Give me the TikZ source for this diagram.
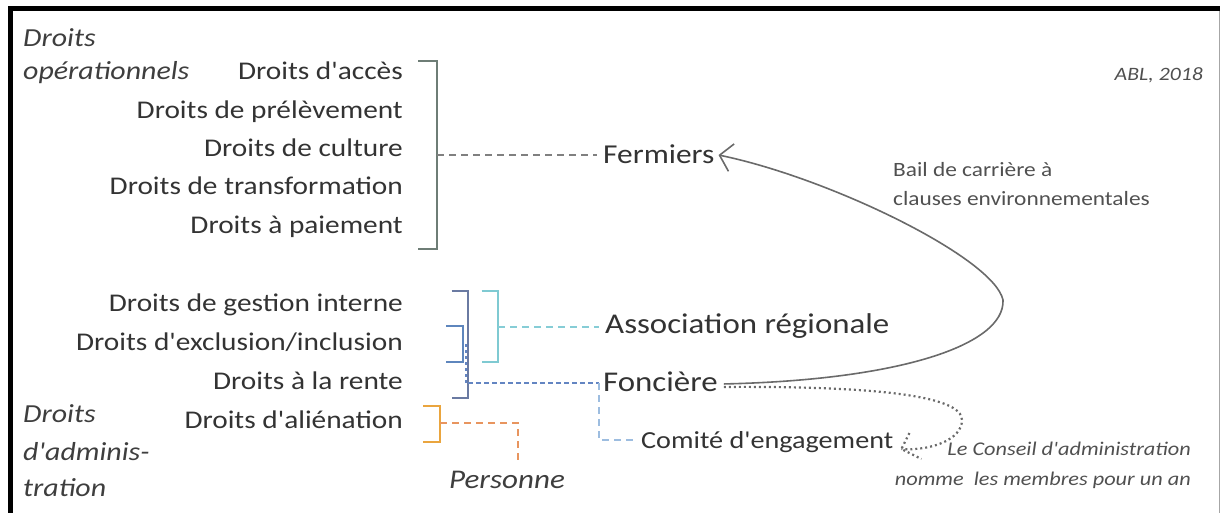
\documentclass[tikz,border=0pt]{standalone}
\usepackage{fontspec}
\setmainfont{Carlito}[FakeStretch=1.15,Ligatures=TeXOff]
\usetikzlibrary{arrows.meta,calc}
\definecolor{txt}{HTML}{333333}
\definecolor{itx}{HTML}{3E3E3E}
\definecolor{notec}{HTML}{505050}
\definecolor{brkG}{HTML}{6E7D76}
\definecolor{dshG}{HTML}{808080}
\definecolor{brkA}{HTML}{6A7AA2}
\definecolor{brkB}{HTML}{5E86BD}
\definecolor{brkC}{HTML}{7FCAD2}
\definecolor{dshC}{HTML}{86CDD6}
\definecolor{dshF}{HTML}{6385C2}
\definecolor{dshK}{HTML}{9DBDE0}
\definecolor{brkD}{HTML}{EAA53E}
\definecolor{dshD}{HTML}{E8955F}
\definecolor{curvec}{HTML}{6A6A6A}
\definecolor{dotc}{HTML}{6A6A6A}
\begin{document}
\begin{tikzpicture}[x=1pt,y=-1pt,
  rlbl/.style={font=\fontsize{25.5}{30}\selectfont, text=txt, inner sep=0pt, anchor=base east},
  ilbl/.style={font=\fontsize{#1}{#1}\selectfont\itshape, text=itx, inner sep=0pt, anchor=base west},
  actor/.style={font=\fontsize{#1}{#1}\selectfont, text=txt, inner sep=0pt, anchor=base west},
  notelbl/.style={font=\fontsize{20.3}{24}\selectfont, text=notec, inner sep=0pt, anchor=base west},
  inote/.style={font=\fontsize{19.4}{24}\selectfont\itshape, text=notec, inner sep=0pt, anchor=base east},
  brk/.style={draw=#1, line width=2pt},
  dsh/.style={draw=#1, line width=2pt, dash pattern=on 7pt off 5pt},
  dotline/.style={draw=dotc, line width=2.2pt, dash pattern=on 2pt off 3pt},
]
\useasboundingbox (0,0) rectangle (1220,513);
% frame
\fill[black] (8,6) rectangle (1220,11);
\fill[black] (8,6) rectangle (13,513);
\draw[black!35, line width=1pt] (1219,11) -- (1219,513);

% left italic labels
\node[ilbl=26] (dop1) at (23,46.7) {Droits};
\node[ilbl=26] (dop2) at (23,80) {opérationnels};
\node[ilbl=26] (dad1) at (23,422.7) {Droits};
\node[ilbl=26] (dad2) at (23,460) {d'adminis-};
\node[ilbl=26] (dad3) at (23,496.7) {tration};

% rights
\node[rlbl] (acces) at (403,80) {Droits d'accès};
\node[rlbl] (prel) at (403,118.5) {Droits de prélèvement};
\node[rlbl] (cult) at (403,156.7) {Droits de culture};
\node[rlbl] (transf) at (403,195) {Droits de transformation};
\node[rlbl] (paie) at (403,233.3) {Droits à paiement};
\node[rlbl] (gest) at (403,311.7) {Droits de gestion interne};
\node[rlbl] (excl) at (403,350.7) {Droits d'exclusion/inclusion};
\node[rlbl] (rente) at (403,389.3) {Droits à la rente};
\node[rlbl] (alien) at (403,428.3) {Droits d'aliénation};

% actors
\node[actor=27.3] (ferm) at (603,163.3) {Fermiers};
\node[actor=28.6] (assoc) at (605,333.5) {Association régionale};
\node[actor=28.6] (fonc) at (603,391.7) {Foncière};
\node[actor=24.5] (comite) at (641,448) {Comité d'engagement};
\node[ilbl=27, anchor=base] (pers) at (507,488) {Personne};

% notes
\node[ilbl=18.9, text=notec, anchor=base east] (abl) at (1203,81) {ABL, 2018};
\node[notelbl] (bail1) at (893,176.7) {Bail de carrière à};
\node[notelbl] (bail2) at (893,205) {clauses environnementales};
\node[inote] (cons1) at (1191,455) {Le Conseil d'administration};
\node[inote] (cons2) at (1191,485) {nomme\ \ les membres pour un an};

% bracket operational rights
\draw[brk=brkG] (418,60.7) -- (437,60.7) -- (437,249) -- (418,249);
\coordinate (gmid) at (437,155);
\draw[dsh=dshG, line width=1.6pt, shorten >=6pt] (gmid) -- (gmid -| ferm.west);

% bracket A (gestion -> rente)
\draw[brk=brkA] (451.7,291) -- (468.3,291) -- (468.3,398.3) -- (451.7,398.3);
% bracket B (exclusion)
\draw[brk=brkB] (446,325.7) -- (462.7,325.7) -- (462.7,361.7) -- (446,361.7);
% bracket C (gestion + exclusion)
\draw[brk=brkC] (481.7,291) -- (498.3,291) -- (498.3,361.7) -- (481.7,361.7);
% bracket D (alienation)
\draw[brk=brkD] (423,405.7) -- (440,405.7) -- (440,442.3) -- (423,442.3);

% association
\coordinate (cmid) at (498.3,327.3);
\draw[dsh=dshC, shorten >=6pt] (cmid) -- (cmid -| assoc.west);

% fonciere
\coordinate (bmid) at (466,344);
\coordinate (amid) at (468.3,383.3);
\coordinate (fork) at (599,383.3);
\draw[draw=dshF, line width=1.8pt, dash pattern=on 3pt off 3pt] (bmid) -- (466,383.3);
\draw[draw=dshF, line width=1.8pt, dash pattern=on 5pt off 3pt] (amid) -- (fork);
\draw[dsh=dshK, line width=1.6pt, shorten >=8pt] (fork) |- (comite.base west |- 0,440);

% personne
\coordinate (dmid) at (440,423.3);
\coordinate (pend) at (518,461.7);
\draw[dsh=dshD] (dmid) -| (pend);

% lease curve
\coordinate (fs) at ($(fonc.east)+(6,2)$);
\coordinate (fe) at ($(ferm.east)+(4,1)$);
\draw[curvec, line width=1.6pt, -{Straight Barb[length=12pt,width=28pt,line width=1.6pt]}]
  (fs) .. controls (900,380) and (1005,345) .. (1003,300)
       .. controls (994,258) and (830,178) .. (fe);

% dotted nomination
\coordinate (ds) at ($(fonc.east)+(6,5)$);
\coordinate (dtip) at ($(comite.base east)+(8,1)$);
\draw[dotline] (ds) .. controls (870,386) and (962,395) .. (962,420)
       .. controls (962,440) and (930,451) .. (dtip);
\draw[dotline] ($(dtip)+(8,-16)$) -- (dtip) -- ($(dtip)+(20,10)$);
\end{tikzpicture}
\end{document}
